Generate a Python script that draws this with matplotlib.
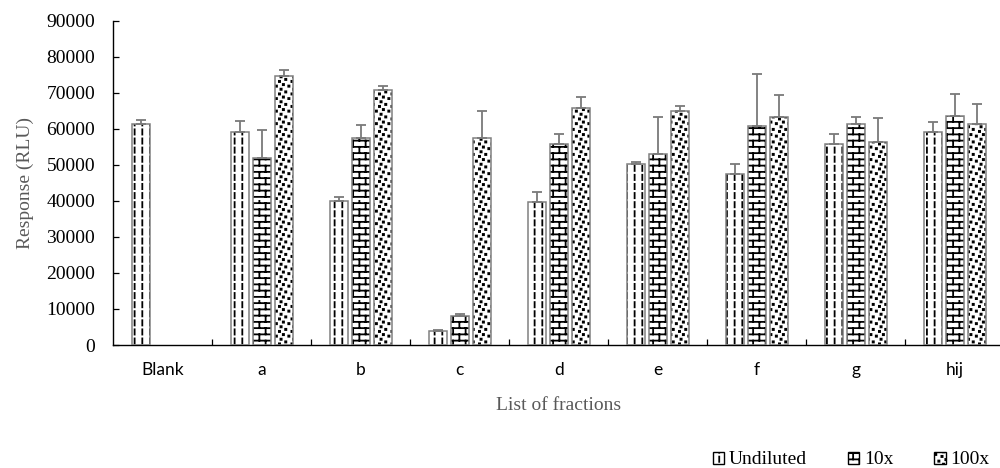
import warnings
import numpy as np
import matplotlib
matplotlib.use('Agg')
import matplotlib.pyplot as plt
import matplotlib.hatch as mhatch
from matplotlib.path import Path
from matplotlib.patches import Patch

warnings.filterwarnings('ignore')

# ---------------- data ----------------
categories = ['Blank', 'a', 'b', 'c', 'd', 'e', 'f', 'g', 'hij']
series_names = ['Undiluted', '10x', '100x']
nan = np.nan
undiluted = [61470, 59250, 40080, 3800, 39810, 50280, 47580, 55750, 59250]
undiluted_err = [1030, 2970, 950, 370, 2770, 640, 2610, 2860, 2610]
dil10 = [nan, 52030, 57420, 7970, 55920, 53060, 60750, 61310, 63610]
dil10_err = [nan, 7610, 3690, 720, 2610, 10080, 14440, 1940, 5920]
dil100 = [nan, 74530, 70750, 57420, 65750, 64810, 63140, 56390, 61470]
dil100_err = [nan, 1660, 1000, 7390, 2950, 1580, 6220, 6470, 5470]
y_ticks = [0, 10000, 20000, 30000, 40000, 50000, 60000, 70000, 80000, 90000]


# ---------------- custom hatch patterns ----------------
class DashedVerticalHatch(mhatch.HatchPatternBase):
    def __init__(self, hatch, density):
        self.cols = 13 if 'D' in hatch else 0
        self.rows = 11
        self.num_vertices = self.cols * self.rows * 2

    def set_vertices_and_codes(self, vertices, codes):
        k = 0
        for i in range(self.cols):
            x = (i + 0.5) / self.cols
            for j in range(self.rows):
                y0 = (j + 0.2) / self.rows
                vertices[k] = (x, y0)
                vertices[k + 1] = (x, y0 + 0.052)
                codes[k] = Path.MOVETO
                codes[k + 1] = Path.LINETO
                k += 2


class BrickHatch(mhatch.HatchPatternBase):
    def __init__(self, hatch, density):
        self.on = 'B' in hatch
        self.rows = 16
        self.bricks = 8
        self.num_vertices = ((self.rows + self.rows * self.bricks) * 2) if self.on else 0

    def set_vertices_and_codes(self, vertices, codes):
        k = 0
        for r in range(self.rows):
            y = (r + 0.5) / self.rows
            vertices[k] = (0, y)
            vertices[k + 1] = (1, y)
            codes[k] = Path.MOVETO
            codes[k + 1] = Path.LINETO
            k += 2
        for r in range(self.rows):
            y0 = (r + 0.5) / self.rows
            y1 = (r + 1.5) / self.rows
            for b in range(self.bricks):
                x = (b + 0.25 + 0.5 * (r % 2)) / self.bricks
                vertices[k] = (x, y0)
                vertices[k + 1] = (x, min(y1, 1.0))
                codes[k] = Path.MOVETO
                codes[k + 1] = Path.LINETO
                k += 2


class ConfettiHatch(mhatch.HatchPatternBase):
    motif = [(0.5, 0.5), (5.0, 1.5), (2.5, 3.5), (6.5, 4.8), (3.5, 6.5)]

    def __init__(self, hatch, density):
        self.on = 'C' in hatch
        self.cells = 8
        self.num_vertices = (self.cells * self.cells * len(self.motif) * 5) if self.on else 0

    def set_vertices_and_codes(self, vertices, codes):
        k = 0
        unit = 1.0 / (self.cells * 8)
        s = 0.75 * unit
        for cx in range(self.cells):
            for cy in range(self.cells):
                for (mx, my) in self.motif:
                    x0 = cx / self.cells + mx * unit
                    y0 = cy / self.cells + my * unit
                    pts = [(x0, y0), (x0 + s, y0), (x0 + s, y0 + s), (x0, y0 + s), (x0, y0)]
                    cds = [Path.MOVETO, Path.LINETO, Path.LINETO, Path.LINETO, Path.CLOSEPOLY]
                    for p, c in zip(pts, cds):
                        vertices[k] = p
                        codes[k] = c
                        k += 1


mhatch._hatch_types.extend([DashedVerticalHatch, BrickHatch, ConfettiHatch])
plt.rcParams['hatch.linewidth'] = 1.3

# ---------------- figure ----------------
serif = 'Liberation Serif'
fig = plt.figure(figsize=(10, 4.68), dpi=100)
fig.patch.set_facecolor('white')
ax = fig.add_axes([0.1133, 123 / 468, 0.891, 324.3 / 468])

x = np.arange(len(categories))
width = 0.177
offsets = [-0.222, 0.0, 0.222]
series = [(undiluted, undiluted_err, 'D'), (dil10, dil10_err, 'B'), (dil100, dil100_err, 'C')]

for (vals, errs, hatch), off in zip(series, offsets):
    v = np.array(vals, dtype=float)
    e = np.array(errs, dtype=float)
    m = ~np.isnan(v)
    xs = x[m] + off
    ax.bar(xs, v[m], width=width, color='white', edgecolor='black', linewidth=0,
           hatch=hatch, zorder=2)
    ax.bar(xs, v[m], width=width, fill=False, edgecolor='#808080', linewidth=1.1, zorder=3)
    ax.errorbar(xs, v[m], yerr=[np.zeros(m.sum()), e[m]], fmt='none', ecolor='#7a7a7a',
                elinewidth=1.3, capsize=3.6, capthick=1.3, zorder=4)

ax.set_xlim(-0.5, len(categories) - 0.5)
ax.set_ylim(0, 90000)
for s in ['top', 'right']:
    ax.spines[s].set_visible(False)
for s in ['left', 'bottom']:
    ax.spines[s].set_linewidth(1.0)
    ax.spines[s].set_color('black')

ax.set_yticks(y_ticks)
ax.set_yticklabels([str(t) for t in y_ticks], fontfamily=serif, fontsize=14)
ax.tick_params(axis='y', direction='in', length=4.3, width=0.9, pad=13)

ax.set_xticks(x)
ax.set_xticklabels(categories, fontfamily='Lato', fontsize=12.5)
ax.set_xticks(x[:-1] + 0.5, minor=True)
ax.tick_params(axis='x', which='major', length=0, pad=12)
ax.tick_params(axis='x', which='minor', direction='in', length=4, width=0.9)

ax.set_ylabel('Response (RLU)', fontfamily=serif, fontsize=14, color='#595959')
ax.yaxis.set_label_coords(-0.0985, 0.5)
ax.yaxis.label.set_verticalalignment('center')
ax.set_xlabel('List of fractions', fontfamily=serif, fontsize=14, color='#595959')
ax.xaxis.set_label_coords(0.5, -0.1865)
ax.xaxis.label.set_verticalalignment('center')

handles = [Patch(facecolor='white', edgecolor='black', hatch=h, linewidth=1.0)
           for h in ['D', 'B', 'C']]
fig.legend(handles, series_names, loc='center left', bbox_to_anchor=(0.713, 1 - 460 / 468),
           ncol=3, frameon=False, prop={'family': serif, 'size': 14},
           handlelength=0.57, handleheight=0.57, handletextpad=0.26,
           columnspacing=2.1, borderpad=0, borderaxespad=0)

fig.savefig('out.png', dpi=100, facecolor='white')
